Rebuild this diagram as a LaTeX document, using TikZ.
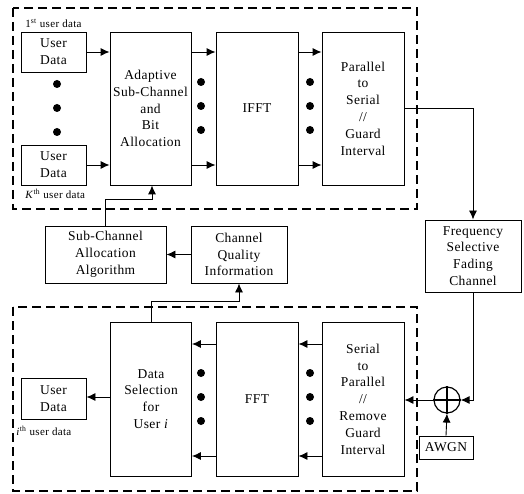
\documentclass[tikz,border=0pt]{standalone}
\usepackage{fontspec}
\setmainfont[LetterSpace=3]{Liberation Serif}
\usetikzlibrary{arrows.meta}

\def\punkte#1#2{
	\foreach \d in {-1,0,1}{
		\fill (#1,{#2+24*\d}) circle[radius=4];
	}
}

\begin{document}
\begin{tikzpicture}[x=1pt,y=-1pt,>={Latex[length=9pt,width=8pt]},line width=0.9pt,
	blk/.style 2 args={draw,align=center,minimum width=#1,minimum height=#2,inner sep=0pt,font=\fontsize{13.5}{16.8}\selectfont},
	lbl/.style={font=\fontsize{11}{13}\selectfont,anchor=west,inner sep=0pt},
	rahmen/.style={dash pattern=on 9pt off 5pt,line width=1.6pt}]
\useasboundingbox (0,0) rectangle (524,494);
% transmitter
\draw[rahmen] (13,8) rectangle (417,209);
\node[blk={65pt}{40pt}] (ud1) at (53.5,52) {User\\Data};
\node[blk={65pt}{40pt}] (udK) at (53.5,165) {User\\Data};
\node[lbl] (l1) at (25,23) {1\textsuperscript{st} user data};
\node[lbl] (lK) at (25,194) {\textit{K}\textsuperscript{th} user data};
\punkte{57}{108}
\node[blk={81pt}{153pt}] (alloc) at (150.5,108.5) {Adaptive\\Sub-Channel\\and\\Bit\\Allocation};
\node[blk={82pt}{153pt}] (ifft) at (257,108.5) {IFFT};
\node[blk={82pt}{153pt}] (ps) at (363,108.5) {Parallel\\to\\Serial\\//\\Guard\\Interval};
\draw[->] (ud1.east) -- (ud1.east -| alloc.west);
\draw[->] (udK.east) -- (udK.east -| alloc.west);
\foreach \a/\b in {alloc/ifft,ifft/ps}{
	\draw[->] (\a.east |- ud1.east) -- (\b.west |- ud1.east);
	\draw[->] (\a.east |- udK.east) -- (\b.west |- udK.east);
}
\punkte{201}{106}
\punkte{310}{106}
% channel
\node[blk={96pt}{72pt}] (fsf) at (473,256) {Frequency\\Selective\\Fading\\Channel};
\node[draw,circle,minimum size=26pt,inner sep=0pt,line width=1.2pt] (adder) at (447,400) {};
\draw[line width=1.2pt] (adder.north) -- (adder.south) (adder.west) -- (adder.east);
\node[blk={54pt}{23pt}] (awgn) at (446,447.5) {AWGN};
\draw[->] (ps.east) -| (fsf.north);
\draw[->] (fsf.south) |- (adder.east);
\draw[->] (awgn.north) -- (adder.south);
% feedback
\node[blk={121pt}{57pt}] (scaa) at (105.5,254.5) {Sub-Channel\\Allocation\\Algorithm};
\node[blk={96pt}{57pt}] (cqi) at (239,254.5) {Channel\\Quality\\Information};
\draw[->] (cqi.west) -- (scaa.east);
\draw[->] (scaa.north) -- ++(0,-26) -| ([xshift=1.5pt]alloc.south);
% receiver
\draw[rahmen] (13,307) rectangle (417,491);
\node[blk={82pt}{154pt}] (sp) at (363,399) {Serial\\to\\Parallel\\//\\Remove\\Guard\\Interval};
\node[blk={82pt}{154pt}] (fft) at (257,399) {FFT};
\node[blk={81pt}{154pt}] (dsel) at (151,399) {Data\\Selection\\for\\User \textit{i}};
\node[blk={65pt}{41pt}] (udi) at (53.5,398.5) {User\\Data};
\node[lbl] (li) at (16,431) {\textit{i}\textsuperscript{th} user data};
\draw[->] (adder.west) -- (adder.west -| sp.east);
\foreach \a/\b in {sp/fft,fft/dsel}{
	\draw[->] ([yshift=-57pt]\a.west) -- ([yshift=-57pt]\b.east);
	\draw[->] ([yshift=55pt]\a.west) -- ([yshift=55pt]\b.east);
}
\punkte{201}{397}
\punkte{310}{397}
\draw[->] ([yshift=2pt]dsel.west) -- ([yshift=2pt]dsel.west -| udi.east);
\draw[->] (dsel.north) -- ++(0,-20) -| (cqi.south);
\end{tikzpicture}
\end{document}
